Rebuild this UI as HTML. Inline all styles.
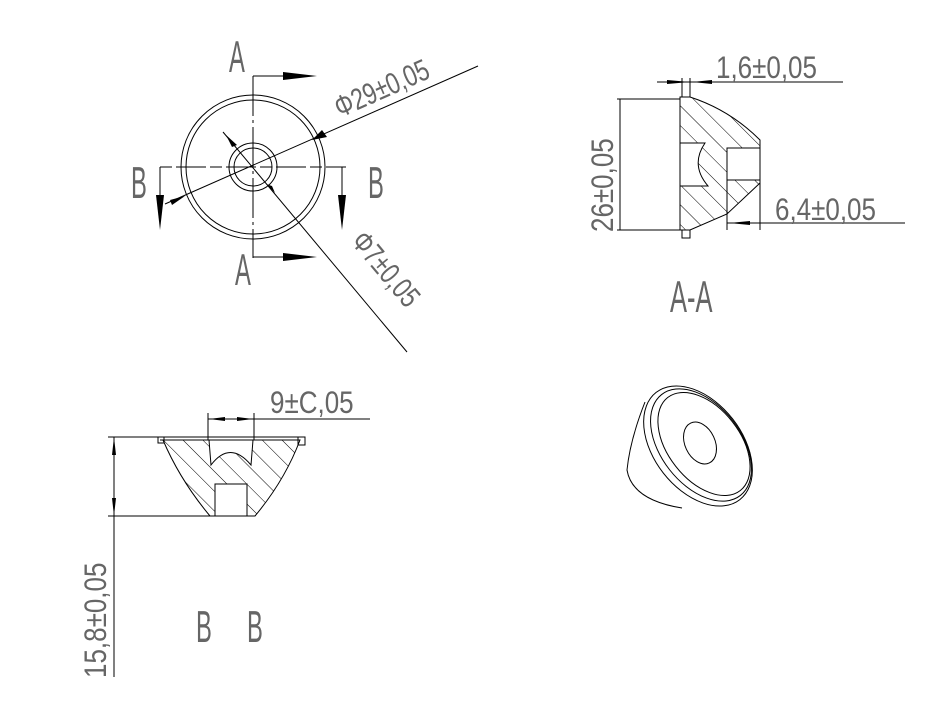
<!DOCTYPE html>
<html><head><meta charset="utf-8"><style>
html,body{margin:0;padding:0;background:#fff;}
svg{display:block;}
text{font-family:"Liberation Sans",sans-serif;fill:#666;}
</style></head><body>
<svg width="926" height="701" viewBox="0 0 926 701" xmlns="http://www.w3.org/2000/svg">
<defs>
<pattern id="h" patternUnits="userSpaceOnUse" width="14" height="14" patternTransform="rotate(-45)">
<line x1="0" y1="0" x2="0" y2="14" stroke="#000" stroke-width="1"/>
</pattern>
</defs>
<g fill="none" stroke="#000" stroke-width="1">
<circle cx="253" cy="167" r="72"/>
<circle cx="253" cy="167" r="67"/>
<circle cx="253" cy="167" r="24"/>
<circle cx="253" cy="167" r="19"/>
<line x1="253" y1="76" x2="253" y2="258" stroke-dasharray="40 4 3 4"/>
<line x1="160" y1="167" x2="346" y2="167" stroke-dasharray="12 4 30 4"/>
<line x1="253" y1="76" x2="290" y2="76"/>
<line x1="253" y1="257" x2="290" y2="257"/>
<line x1="160" y1="167" x2="160" y2="200"/>
<line x1="342" y1="167" x2="342" y2="200"/>
<line x1="165" y1="204" x2="478" y2="66"/>
<line x1="223" y1="132" x2="407" y2="352"/>
<line x1="657" y1="82" x2="843" y2="82"/>
<line x1="682" y1="78" x2="682" y2="97"/>
<line x1="690" y1="78" x2="690" y2="97"/>
<line x1="617" y1="99" x2="680" y2="99"/>
<line x1="617" y1="230" x2="680" y2="230"/>
<line x1="620" y1="99" x2="620" y2="230"/>
<line x1="680" y1="97" x2="680" y2="230"/>
<path d="M680 97 L690 97 Q730 110 760 140 L760 183 L727 214 L690 230 L680 230 Z M680 143 L705 143 Q690 165 708 186 L680 186 Z M727 148 L760 148 L760 180 L727 180 Z" fill="url(#h)" fill-rule="evenodd"/>
<rect x="682" y="230" width="8" height="8"/>
<line x1="727" y1="148" x2="727" y2="230"/>
<line x1="760" y1="183" x2="760" y2="230"/>
<line x1="727" y1="223" x2="905" y2="223"/>
<line x1="108" y1="437" x2="305" y2="437"/>
<line x1="108" y1="516" x2="255" y2="516"/>
<line x1="114" y1="437" x2="114" y2="677"/>
<path d="M160 440 L300 440 Q285 480 255 516 L210 516 Q180 480 163 440 Z M209 440 L253 440 L251 465 Q230 440 211 465 Z M215 484 L247 484 L247 516 L215 516 Z" fill="url(#h)" fill-rule="evenodd"/>
<rect x="158" y="437" width="6" height="6"/>
<rect x="298" y="437" width="7" height="8"/>
<line x1="208" y1="413" x2="208" y2="440"/>
<line x1="254" y1="413" x2="254" y2="440"/>
<line x1="208" y1="419" x2="370" y2="419"/>
<ellipse cx="698" cy="446" rx="44" ry="68" transform="rotate(-38 698 446)"/>
<ellipse cx="701" cy="445" rx="40" ry="64" transform="rotate(-38 701 445)"/>
<ellipse cx="704" cy="444" rx="36" ry="59" transform="rotate(-38 704 444)"/>
<ellipse cx="700" cy="443" rx="15" ry="22" transform="rotate(-25 700 443)"/>
<path d="M645 402 Q630 440 627 470 Q632 500 682 508"/>
</g>
<g fill="#000">
<polygon points="283,72 317,76 283,80"/>
<polygon points="283,253 317,257 283,261"/>
<polygon points="156,195 160,230 164,195"/>
<polygon points="338,195 342,230 346,195"/>
<polygon points="667,80 690,82 667,84"/>
<polygon points="712,80 692,82 712,84"/>
<polygon points="750,221 729,223 750,225"/>
<polygon points="112,455 114,437 116,455"/>
<polygon points="112,498 114,516 116,498"/>
<polygon points="225,417 209,419 225,421"/>
<polygon points="237,417 253,419 237,421"/>
<polygon points="170,200 185,196 172,205"/>
<polygon points="327,137 312,140 322,130"/>
<polygon points="226,135 237,145 232,147"/>
<polygon points="266,184 272,186 275,193"/>
</g>
<g>
<text transform="translate(229,72) scale(0.7,1.3)" font-size="34">A</text>
<text transform="translate(235,285) scale(0.7,1.3)" font-size="34">A</text>
<text transform="translate(131,198) scale(0.7,1.3)" font-size="34">B</text>
<text transform="translate(368,198) scale(0.7,1.3)" font-size="34">B</text>
<text transform="translate(340,118) rotate(-24) scale(0.95,1.25)" font-size="24">Φ29±0,05</text>
<text transform="translate(350,242) rotate(50) scale(0.95,1.25)" font-size="24">Φ7±0,05</text>
<text transform="translate(716,78) scale(1.0,1.2)" font-size="26">1,6±0,05</text>
<text transform="translate(613,232) rotate(-90) scale(1.0,1.2)" font-size="26">26±0,05</text>
<text transform="translate(775,220) scale(1.0,1.2)" font-size="26">6,4±0,05</text>
<text transform="translate(670,312) scale(0.75,1.3)" font-size="34">A-A</text>
<text transform="translate(270,413) scale(1.0,1.2)" font-size="26">9±C,05</text>
<text transform="translate(106,678) rotate(-90) scale(1.0,1.2)" font-size="26">15,8±0,05</text>
<text transform="translate(196,642) scale(0.7,1.3)" font-size="34">B</text>
<text transform="translate(247,642) scale(0.7,1.3)" font-size="34">B</text>
</g>
</svg>
</body></html>
